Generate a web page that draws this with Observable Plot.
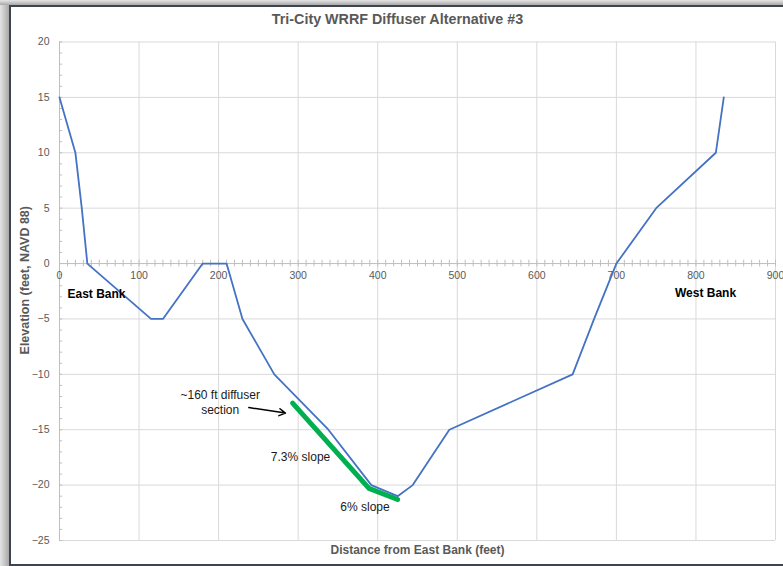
<!DOCTYPE html>
<html>
<head>
<meta charset="utf-8">
<script src="https://cdn.jsdelivr.net/npm/d3@7"></script>
<script src="https://cdn.jsdelivr.net/npm/@observablehq/plot@0.6"></script>
<style>
  html, body { margin: 0; padding: 0; background: #fff; }
  .wrap { position: relative; width: 783px; height: 566px; overflow: hidden;
          background: linear-gradient(to right, #e4e4e4 0px, #a9a9a9 9px); }
  .topband { position: absolute; left: 0; top: 0; width: 783px; height: 5px;
          background: linear-gradient(to bottom, #e6e6e6, #a8a8a8); }
  .inner { position: absolute; left: 9px; top: 5px; width: 780px; height: 557px;
           background: #fff; border-left: 2px solid #3d4650; border-top: 2px solid #3d4650;
           border-bottom: 2px solid #3d4650; }
  #chart { position: absolute; left: 0; top: 0; }
  svg { font-family: "Liberation Sans Narrow", "Arial Narrow", "Liberation Sans", sans-serif; }
</style>
</head>
<body>
<div class="wrap">
  <div class="topband"></div>
  <div class="inner"></div>
  <div id="chart"></div>
</div>
<script>
// Channel cross-section (blue line)
const distance  = [0, 20, 28, 35, 115, 130, 180, 210, 230, 270, 338, 392, 425, 444, 490, 645, 672, 700, 750, 825, 835];
const elevation = [15, 10, 5, 0, -5, -5, 0, 0, -5, -10, -15, -20, -21, -20, -15, -10, -5, 0, 5, 10, 15];

// Diffuser section (green line)
const diffuserX = [293, 389, 425];
const diffuserY = [-12.6, -20.3, -21.3];

// Axis ticks
const xTicks = [0, 100, 200, 300, 400, 500, 600, 700, 800, 900];
const yTicks = [-25, -20, -15, -10, -5, 0, 5, 10, 15, 20];
const xMinor = d3.range(0, 901, 10);
const yMinor = d3.range(-25, 21, 1);

// Annotations
const notes = [
  {x: 202, y: -11.85, text: "~160 ft diffuser", bold: false, anchor: "middle"},
  {x: 202, y: -13.25, text: "section", bold: false, anchor: "middle"},
  {x: 303, y: -17.5, text: "7.3% slope", bold: false, anchor: "middle"},
  {x: 384, y: -21.95, text: "6% slope", bold: false, anchor: "middle"},
  {x: 10, y: -2.75, text: "East Bank", bold: true, anchor: "start"},
  {x: 812, y: -2.7, text: "West Bank", bold: true, anchor: "middle"}
];
const arrow = [{x1: 238, y1: -13.0, x2: 284, y2: -13.5}];

const title = "Tri-City WRRF Diffuser Alternative #3";
const xLabel = "Distance from East Bank (feet)";
const yLabel = "Elevation (feet, NAVD 88)";

const profile = distance.map((d, i) => ({x: d, y: elevation[i]}));
const diffuser = diffuserX.map((d, i) => ({x: d, y: diffuserY[i]}));

const chart = Plot.plot({
  width: 783,
  height: 566,
  marginLeft: 59,
  marginRight: 8,
  marginTop: 41.5,
  marginBottom: 26,
  style: {background: "transparent", overflow: "visible"},
  x: {domain: [0, 900], axis: null},
  y: {domain: [-25, 20], axis: null},
  marks: [
    Plot.gridX(xTicks, {stroke: "#d9d9d9", strokeOpacity: 1}),
    Plot.gridY(yTicks, {stroke: "#d9d9d9", strokeOpacity: 1}),
    Plot.ruleX([0], {stroke: "#bfbfbf"}),
    Plot.ruleY([0], {stroke: "#bfbfbf"}),
    Plot.ruleX(xMinor, {y1: -0.3, y2: 0.3, stroke: "#bfbfbf"}),
    Plot.ruleY(yMinor, {x1: 0, x2: 4, stroke: "#bfbfbf"}),
    Plot.axisY(yTicks, {tickSize: 0, tickPadding: 10, fontSize: 10.5, fill: "#595959", label: null}),
    Plot.text(xTicks, {x: d => d, y: 0, dy: 12, text: d => String(d), fontSize: 10.5, fill: "#595959"}),
    Plot.line(profile, {x: "x", y: "y", stroke: "#4472C4", strokeWidth: 1.8}),
    Plot.line(diffuser, {x: "x", y: "y", stroke: "#00B050", strokeWidth: 5}),
    Plot.arrow(arrow, {x1: "x1", y1: "y1", x2: "x2", y2: "y2", stroke: "#000", strokeWidth: 1.5, headLength: 7}),
    Plot.text(notes.filter(d => !d.bold), {x: "x", y: "y", text: "text", fontSize: 12, fill: "#1a1a1a"}),
    Plot.text(notes.filter(d => d.bold && d.anchor === "start"), {x: "x", y: "y", text: "text", fontSize: 12, fontWeight: "bold", fill: "#000", textAnchor: "start"}),
    Plot.text(notes.filter(d => d.bold && d.anchor === "middle"), {x: "x", y: "y", text: "text", fontSize: 12, fontWeight: "bold", fill: "#000"}),
    Plot.text([title], {frameAnchor: "top", dx: -20, dy: -23, lineAnchor: "middle", text: d => d, fontSize: 14.3, fontWeight: "bold", fill: "#595959"}),
    Plot.text([xLabel], {frameAnchor: "bottom", dy: 10, lineAnchor: "middle", text: d => d, fontSize: 12, fontWeight: "bold", fill: "#595959"}),
    Plot.text([yLabel], {frameAnchor: "left", dx: -35, dy: -11, rotate: -90, textAnchor: "middle", lineAnchor: "middle", text: d => d, fontSize: 12.5, fontWeight: "bold", fill: "#595959"})
  ]
});
document.getElementById("chart").appendChild(chart);
</script>
</body>
</html>
